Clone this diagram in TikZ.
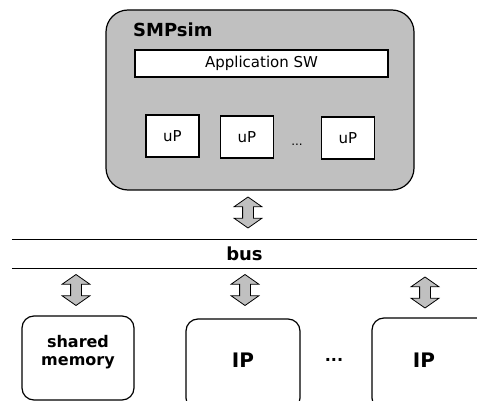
\documentclass[tikz,border=0pt]{standalone}
\usepackage{fontspec}
\setmainfont{DejaVu Sans}
\usetikzlibrary{shapes.arrows}
\definecolor{boxgray}{HTML}{C0C0C0}

\begin{document}
\begin{tikzpicture}[x=1pt,y=-1pt,every node/.style={inner sep=0pt},
        upbox/.style={draw,line width=1.2pt,fill=white,minimum width=53pt,minimum height=42pt,font=\fontsize{15}{18}\selectfont},
        devbox/.style={draw,line width=1.2pt,fill=white,rounded corners=12pt},
        fat/.style={double arrow,draw,line width=0.8pt,fill=boxgray,rotate=90,inner sep=5pt,minimum height=31pt,minimum width=27pt,double arrow head extend=8.5pt,double arrow tip angle=110}]
        \useasboundingbox (0,0) rectangle (477,401);
        \clip (0,0) rectangle (477,401);

        % simulator
        \node[draw,line width=1.2pt,fill=boxgray,rounded corners=22pt,minimum width=308pt,minimum height=180pt] at (260,100) (s) {};
        \node[anchor=base west,font=\bfseries\fontsize{18}{20}\selectfont] at (133,37) (sname) {SMPsim};
        \node[draw,line width=1.2pt,fill=white,minimum width=253pt,minimum height=27pt,font=\fontsize{15}{18}\selectfont] at (261.5,63.5) (app) {Application SW};
        \node[upbox] at (172.5,136) (p1) {uP};
        \node[upbox] at (247,137) (p2) {uP};
        \node[font=\fontsize{12}{14}\selectfont] at (297,145) (pd) {...};
        \node[upbox] at (348,138) (p3) {uP};

        % bus
        \node[minimum width=465pt,minimum height=28pt,font=\bfseries\fontsize{18}{20}\selectfont] at (244.5,254) (bus) {bus};
        \draw[line width=1.2pt] (bus.north west) -- (bus.north east);
        \draw[line width=1.2pt] (bus.south west) -- (bus.south east);

        \node[fat] at (248,212.5) (a0) {};
        \node[fat] at (76,290) (a1) {};
        \node[fat] at (245,290) (a2) {};
        \node[fat] at (425,292.5) (a3) {};

        % devices
        \node[devbox,minimum width=112pt,minimum height=84pt] at (78,358) (mem) {};
        \node[align=center,font=\bfseries\fontsize{16}{18}\selectfont] at (78,352) (memt) {shared\\memory};
        \node[devbox,minimum width=114pt,minimum height=91pt] at (243,364.5) (ip1) {};
        \node[font=\bfseries\fontsize{20}{22}\selectfont] at (243,360) (ip1t) {IP};
        \node[font=\bfseries\fontsize{16}{18}\selectfont] at (334,360) (ipd) {...};
        \node[devbox,minimum width=118pt,minimum height=92pt] at (431,364) (ip2) {};
        \node[font=\bfseries\fontsize{20}{22}\selectfont] at (424,360) (ip2t) {IP};
    \end{tikzpicture}
\end{document}
